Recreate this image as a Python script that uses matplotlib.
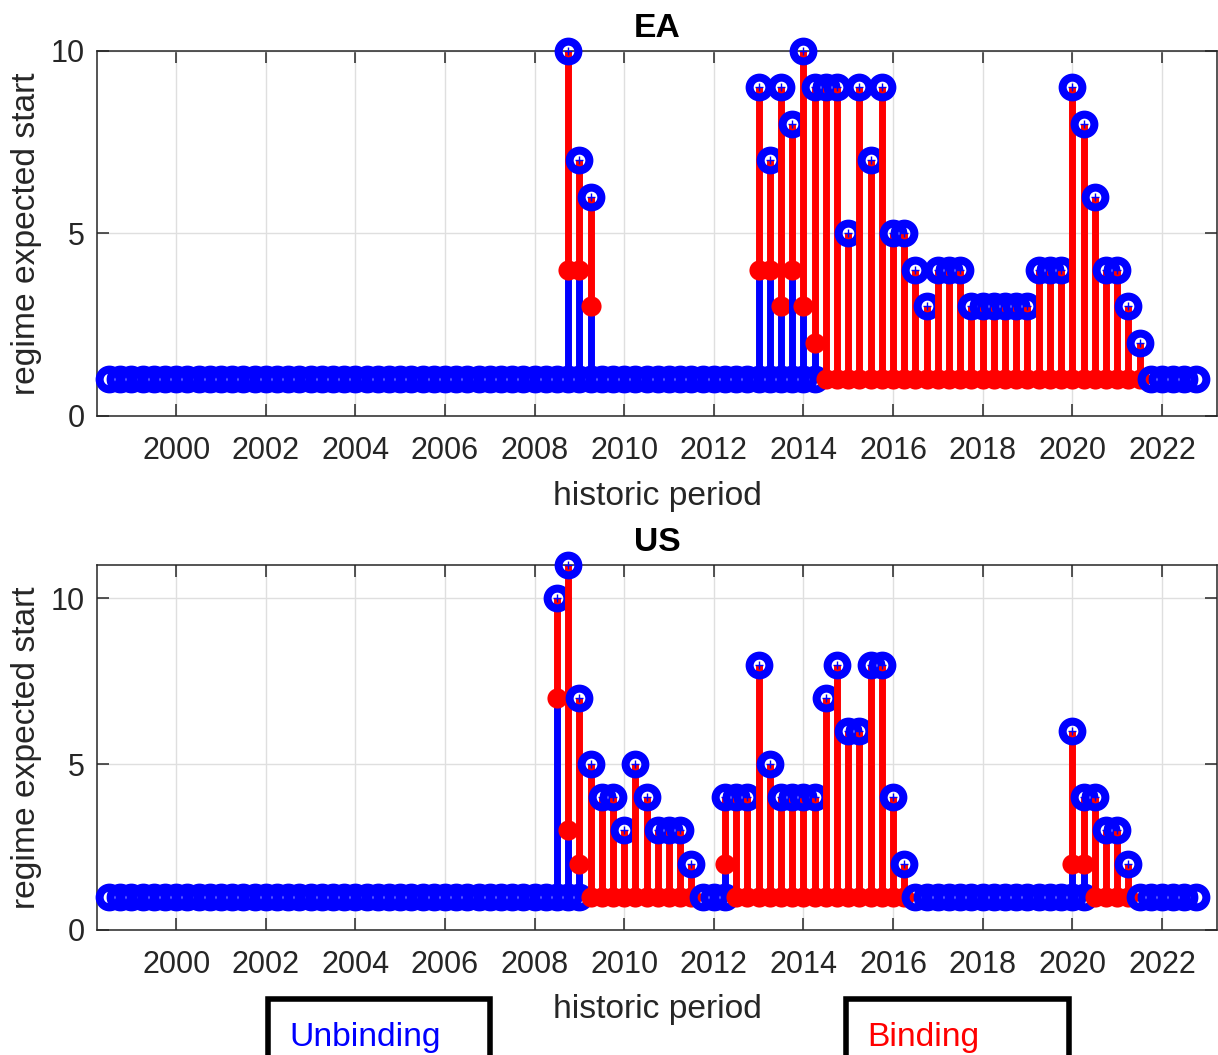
import numpy as np
from matplotlib import pyplot as plt
from matplotlib.patches import Rectangle

plt.rcParams['font.family'] = ['Liberation Sans', 'DejaVu Sans']

# quarterly dates, 1998Q3 .. 2022Q4
dates = np.arange(1998.5, 2022.76, 0.25)

# expected start of the regime (top of each stem)
ea_top = [1, 1, 1, 1, 1, 1, 1, 1, 1, 1,
          1, 1, 1, 1, 1, 1, 1, 1, 1, 1,
          1, 1, 1, 1, 1, 1, 1, 1, 1, 1,
          1, 1, 1, 1, 1, 1, 1, 1, 1, 1,
          1, 10, 7, 6, 1, 1, 1, 1, 1, 1,
          1, 1, 1, 1, 1, 1, 1, 1, 9, 7,
          9, 8, 10, 9, 9, 9, 5, 9, 7, 9,
          5, 5, 4, 3, 4, 4, 4, 3, 3, 3,
          3, 3, 3, 4, 4, 4, 9, 8, 6, 4,
          4, 3, 2, 1, 1, 1, 1, 1]
# period where the binding regime starts (nan = never binding)
ea_bind = [np.nan] * 41 + [4, 4, 3] + [np.nan] * 14 + \
          [4, 4, 3, 4, 3, 2] + [1] * 29 + [np.nan] * 5

us_top = [1, 1, 1, 1, 1, 1, 1, 1, 1, 1,
          1, 1, 1, 1, 1, 1, 1, 1, 1, 1,
          1, 1, 1, 1, 1, 1, 1, 1, 1, 1,
          1, 1, 1, 1, 1, 1, 1, 1, 1, 1,
          10, 11, 7, 5, 4, 4, 3, 5, 4, 3,
          3, 3, 2, 1, 1, 4, 4, 4, 8, 5,
          4, 4, 4, 4, 7, 8, 6, 6, 8, 8,
          4, 2, 1, 1, 1, 1, 1, 1, 1, 1,
          1, 1, 1, 1, 1, 1, 6, 4, 4, 3,
          3, 2, 1, 1, 1, 1, 1, 1]
us_bind = [np.nan] * 40 + [7, 3, 2] + [1] * 10 + [np.nan] * 2 + \
          [2] + [1] * 16 + [np.nan] * 14 + [2, 2, 1, 1, 1, 1] + [np.nan] * 6

BLUE = '#0000ff'
RED = '#ff0000'
AXC = '#262626'
STEM_LW = 5.0


def draw_regimes(ax, t, top, bind):
    for k in range(len(t)):
        z = 3 + 0.01 * k
        b = bind[k]
        if np.isnan(b) or b > 1:
            ax.plot(t[k], 1, 'o', ms=14.2, mew=5.8, mfc='none', mec=BLUE,
                    zorder=z, clip_on=False)
        if np.isnan(b):
            continue
        if b > 1:
            ax.plot([t[k], t[k]], [1, b], color=BLUE, lw=STEM_LW,
                    solid_capstyle='butt', zorder=z + 0.001)
        ax.plot([t[k], t[k]], [b, top[k]], color=RED, lw=STEM_LW,
                solid_capstyle='butt', zorder=z + 0.002)
        ax.plot(t[k], b, 'o', ms=14.5, mew=0, color=RED, zorder=z + 0.003,
                clip_on=False)
        ax.plot(t[k], top[k], 'o', ms=14.2, mew=5.8, mfc='none', mec=BLUE,
                zorder=z + 0.004, clip_on=False)
        ax.plot(t[k], top[k], '+', ms=6, mew=1, color=BLUE,
                zorder=z + 0.005, clip_on=False)


fig = plt.figure(figsize=(12.18, 10.55), dpi=100)
ax1 = fig.add_axes([0.0799, 0.6057, 0.9193, 0.3463])
ax2 = fig.add_axes([0.0799, 0.1185, 0.9193, 0.3460])

panels = [(ax1, 'EA', ea_top, ea_bind, 10, -0.22),
          (ax2, 'US', us_top, us_bind, 11, -0.218)]

for ax, name, top, bind, ymax, xlab_y in panels:
    draw_regimes(ax, dates, top, bind)
    ax.set_xlim(1998.24, 2023.23)
    ax.set_ylim(0, ymax)
    ax.set_xticks(np.arange(2000, 2023, 2))
    ax.set_yticks([0, 5, 10])
    ax.grid(True, color='#dfdfdf', lw=1.0, zorder=0)
    ax.set_axisbelow(True)
    ax.tick_params(direction='in', top=True, right=True, length=8.6,
                   width=1.1, colors=AXC, labelsize=22)
    ax.tick_params(axis='x', pad=14.5)
    ax.tick_params(axis='y', pad=9)
    for s in ax.spines.values():
        s.set_color(AXC)
        s.set_linewidth(1.1)
    ax.set_title(name, fontsize=24.2, fontweight='bold', pad=10)
    ax.set_xlabel('historic period', fontsize=24.2, color=AXC, va='center')
    ax.set_ylabel('regime expected start', fontsize=24.2, color=AXC,
                  va='center')
    ax.xaxis.set_label_coords(0.5, xlab_y)
    ax.yaxis.set_label_coords(-0.063, 0.5)

# legend boxes under the lower panel
for x0, x1, label, col in [(268, 490, 'Unbinding', BLUE),
                           (846, 1069, 'Binding', RED)]:
    fig.patches.append(Rectangle((x0 / 1218, -0.05), (x1 - x0) / 1218,
                                 0.05 + 0.0535, transform=fig.transFigure,
                                 facecolor='white', edgecolor='black',
                                 lw=4))
    fig.text((x0 + 21) / 1218, 0.0085, label, color=col, fontsize=24.2,
             ha='left', va='baseline')

fig.savefig('out.png', dpi=100)
